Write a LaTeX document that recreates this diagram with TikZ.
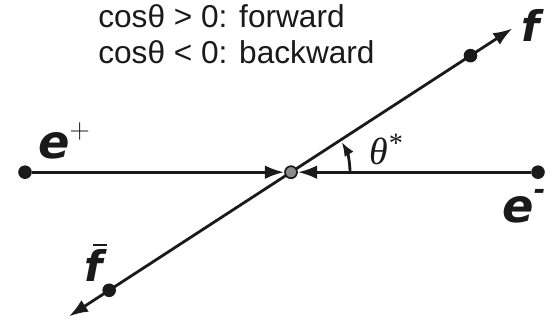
\documentclass[tikz,border=0pt]{standalone}
\usepackage{fontspec}
\setsansfont{Liberation Sans}
\newfontfamily\partfont{DejaVu Sans}
\newfontfamily\anglefont{Liberation Serif}
\usepackage{tikz}
\usetikzlibrary{arrows.meta,positioning,calc}
\usepackage{xcolor}
\usepackage{amsmath}
\definecolor{Ink}{HTML}{1A1A1A}
\definecolor{Vertex}{HTML}{8C8C8C}

\begin{document}
\begin{tikzpicture}[x=1cm,y=1cm,>={Latex[length=0.48cm,width=0.34cm]},
  dot/.style={circle,fill=Ink,inner sep=0pt,minimum size=0.34cm},
  beam/.style={Ink,line width=2pt},
  note/.style={anchor=base west,inner sep=0pt,font=\sffamily\fontsize{22.5}{26}\selectfont,text=Ink},
  part/.style={anchor=base west,inner sep=0pt,font=\partfont\bfseries\itshape\fontsize{33}{36}\selectfont,text=Ink}]
\useasboundingbox (0,0) rectangle (13.85,8.025);
\node[note] (fwd) at (2.45,7.33) {cosθ > 0: forward};
\node[note] (bwd) at (2.45,6.43) {cosθ < 0: backward};
\coordinate (o) at (7.275,3.72);
\coordinate (ft) at ($(o)+(33:6.6)$);
\coordinate (fbt) at ($(o)+(213:6.62)$);
\draw[beam,->] (o) -- (ft);
\draw[beam,->] (o) -- (fbt);
\node[dot] (fd) at ($(o)+(33:5.35)$) {};
\node[dot] (fbd) at ($(o)+(213:5.42)$) {};
\node[dot] (ep) at (0.625,3.72) {};
\node[dot] (em) at (13.45,3.72) {};
\node[circle,fill=Vertex,draw=Ink,line width=1.2pt,inner sep=0pt,minimum size=0.3cm] (ctr) at (o) {};
\draw[beam,->] (ep) -- (ctr);
\draw[beam,->] (em) -- (ctr);
\draw[beam,-{Latex[length=0.36cm,width=0.26cm]}] ($(o)+(0:1.475)$) arc[start angle=0,end angle=31,radius=1.475];
\node[part] (eplab) at (0.95,4.07) {e\raisebox{0.42em}{\normalfont\fontsize{20}{20}\selectfont +}};
\node[part] (emlab) at (12.55,2.45) {e\raisebox{0.5em}{\fontsize{20}{20}\selectfont -}};
\node[part,font=\partfont\bfseries\itshape\fontsize{30}{32}\selectfont] (flab) at (13.02,6.98) {f};
\node[part,font=\partfont\bfseries\itshape\fontsize{30}{32}\selectfont] (fblab) at (2.1,0.98) {\rlap{\hspace{0.2em}\rule[0.84em]{0.33em}{0.065em}}f};
\node[anchor=base west,inner sep=0pt,font=\anglefont\itshape\fontsize{27}{28}\selectfont,text=Ink] (ang) at (9.22,3.92) {θ\raisebox{0.3em}{\fontsize{20}{20}\selectfont *}};
\end{tikzpicture}
\end{document}
